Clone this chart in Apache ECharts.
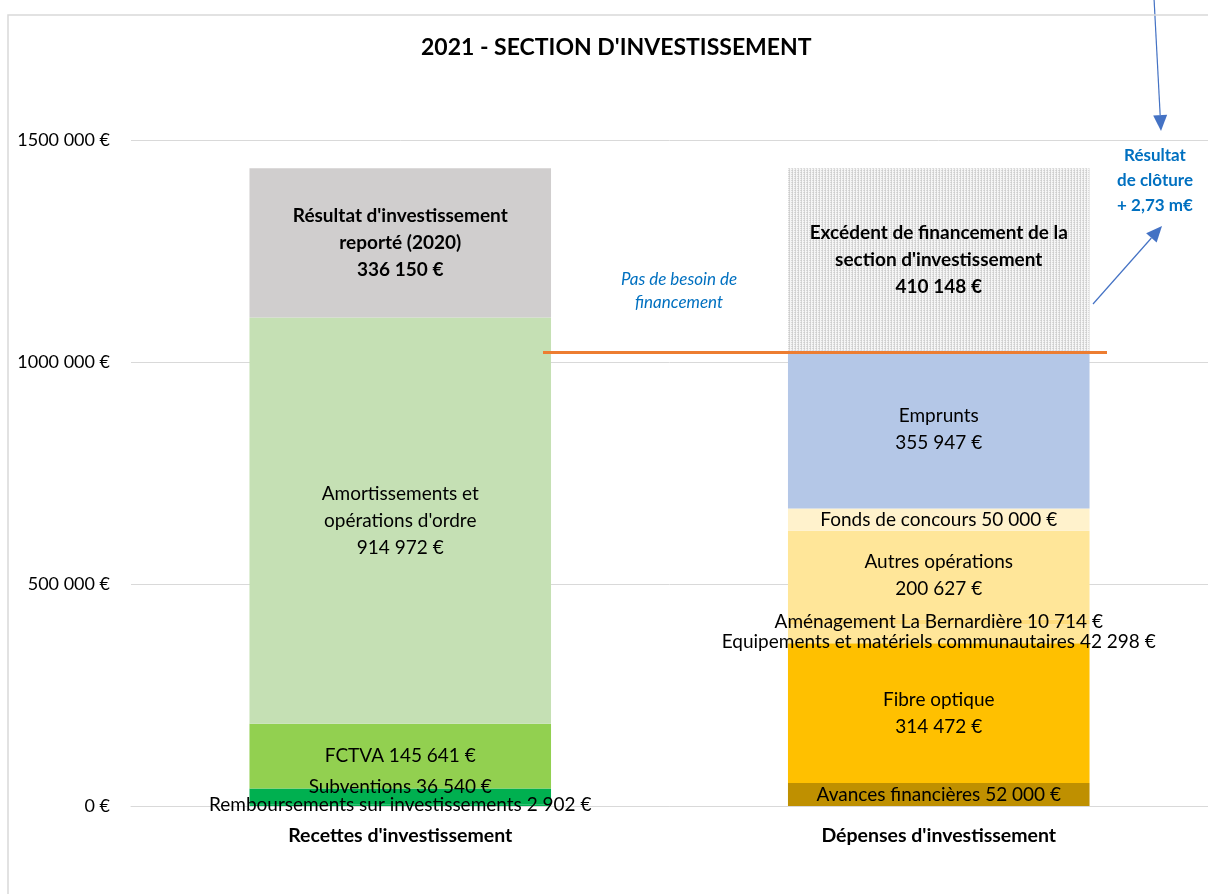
<!DOCTYPE html>
<html>
<head>
<meta charset="utf-8">
<title>2021 - Section d'investissement</title>
<script src="https://cdn.jsdelivr.net/npm/echarts@6/dist/echarts.min.js"></script>
<style>
  html, body { margin: 0; padding: 0; background: #fff; }
  #chart { width: 1208px; height: 894px; }
</style>
</head>
<body>
<div id="chart"></div>
<script>
const categories = ["Recettes d'investissement", "Dépenses d'investissement"];

// recettes (bas -> haut)
const recettesNames = [
  "Remboursements sur investissements",
  "Subventions",
  "FCTVA",
  "Amortissements et\nopérations d'ordre\n",
  "Résultat d'investissement\nreporté (2020)\n"
];
const recettesValues = [2902, 36540, 145641, 914972, 336150];
const recettesColors = ["#00b050", "#00b050", "#92d050", "#c5e0b4", "#d0cece"];

// dépenses (bas -> haut)
const depensesNames = [
  "Avances financières",
  "Fibre optique\n",
  "Equipements et matériels communautaires",
  "Aménagement La Bernardière",
  "Autres opérations\n",
  "Fonds de concours",
  "Emprunts\n",
  "Excédent de financement de la\nsection d'investissement\n"
];
const depensesValues = [52000, 314472, 42298, 10714, 200627, 50000, 355947, 410148];
const depensesColors = ["#bf9000", "#ffc000", "#ffe699", "#ffdc7a", "#ffe699", "#fff2cc", "#b4c7e7", "pattern"];

const yTicks = [0, 500000, 1000000, 1500000];

(function () {
  const chart = echarts.init(document.getElementById("chart"));
  const font = "Lato, 'Open Sans', sans-serif";

  function euro(v) {
    return String(v).replace(/\B(?=(\d{3})+(?!\d))/g, " ") + " €";
  }

  // motif pointillé gris clair pour l'excédent
  const pat = document.createElement("canvas");
  pat.width = 3;
  pat.height = 2;
  const ctx = pat.getContext("2d");
  ctx.fillStyle = "#f6f6f6";
  ctx.fillRect(0, 0, 3, 2);
  ctx.fillStyle = "#cdcdcd";
  ctx.fillRect(0, 0, 1, 1);
  ctx.fillStyle = "#dadada";
  ctx.fillRect(0, 1, 1, 1);
  ctx.fillRect(2, 0, 1, 1);

  const boldSeries = {
    "Résultat d'investissement\nreporté (2020)\n": true,
    "Excédent de financement de la\nsection d'investissement\n": true
  };
  const offsets = { "Subventions": [0, -10], "Equipements et matériels communautaires": [0, 8] };

  function makeSeries(name, value, color, idx) {
    const data = idx === 0 ? [value, "-"] : ["-", value];
    const sep = name.slice(-1) === "\n" ? "" : " ";
    return {
      name: name,
      type: "bar",
      stack: "total",
      barWidth: "56%",
      data: data,
      itemStyle: {
        color: color === "pattern" ? { image: pat, repeat: "repeat" } : color
      },
      emphasis: { disabled: true },
      label: {
        show: true,
        position: "inside",
        offset: offsets[name] || [0, 0],
        color: "#000",
        fontFamily: font,
        fontSize: 19,
        lineHeight: 27,
        fontWeight: boldSeries[name] ? "bold" : "normal",
        formatter: function (p) {
          return name + sep + euro(p.value);
        }
      }
    };
  }

  const series = [];
  recettesNames.forEach(function (n, i) {
    series.push(makeSeries(n, recettesValues[i], recettesColors[i], 0));
  });
  depensesNames.forEach(function (n, i) {
    series.push(makeSeries(n, depensesValues[i], depensesColors[i], 1));
  });

  const option = {
    animation: false,
    title: {
      text: "2021 - SECTION D'INVESTISSEMENT",
      left: 416,
      top: 31,
      textStyle: { fontFamily: font, fontSize: 23, fontWeight: "bold", color: "#000" }
    },
    grid: { left: 131, width: 1080, top: 140, bottom: 88 },
    xAxis: {
      type: "category",
      data: categories,
      axisTick: { show: false },
      axisLine: { lineStyle: { color: "#d9d9d9" } },
      axisLabel: { color: "#000", fontFamily: font, fontSize: 19.5, fontWeight: "bold", margin: 20 }
    },
    yAxis: {
      type: "value",
      min: yTicks[0],
      max: yTicks[yTicks.length - 1],
      interval: yTicks[1] - yTicks[0],
      axisLine: { show: false },
      axisTick: { show: false },
      splitLine: { lineStyle: { color: "#d9d9d9", width: 1 } },
      axisLabel: {
        color: "#000",
        fontFamily: font,
        fontSize: 18,
        margin: 21,
        formatter: function (v) {
          return v === 0 ? "0 €" : Math.floor(v / 1000) + " 000 €";
        }
      }
    },
    series: series
  };
  chart.setOption(option);

  // ligne orange au niveau des dépenses réelles (hors excédent)
  const depReelles = depensesValues.slice(0, depensesValues.length - 1).reduce(function (a, b) { return a + b; }, 0);
  const yLine = chart.convertToPixel({ gridIndex: 0 }, [1, depReelles])[1];

  function arrow(x1, y1, x2, y2) {
    const a = Math.atan2(y2 - y1, x2 - x1);
    const len = 16, w = 7;
    const bx = x2 - len * Math.cos(a), by = y2 - len * Math.sin(a);
    return [
      { type: "line", shape: { x1: x1, y1: y1, x2: bx, y2: by }, style: { stroke: "#4472c4", lineWidth: 1.2 } },
      {
        type: "polygon",
        shape: { points: [[x2, y2], [bx + w * Math.sin(a), by - w * Math.cos(a)], [bx - w * Math.sin(a), by + w * Math.cos(a)]] },
        style: { fill: "#4472c4" }
      }
    ];
  }

  chart.setOption({
    graphic: [
      { type: "rect", shape: { x: 8, y: 15, width: 1400, height: 1000 }, style: { fill: null, stroke: "#d9d9d9", lineWidth: 1.5 }, z: 1 },
      { type: "line", shape: { x1: 543, y1: yLine + 2, x2: 1107, y2: yLine + 2 }, style: { stroke: "#ed7d31", lineWidth: 3 }, z: 100 },
      {
        type: "text", x: 679, y: 268, z: 100,
        style: { text: "Pas de besoin de\nfinancement", align: "center", fill: "#0070c0", fontFamily: font, fontSize: 17, fontStyle: "italic", lineHeight: 23 }
      },
      {
        type: "text", x: 1155, y: 143, z: 100,
        style: { text: "Résultat\nde clôture\n+ 2,73 m€", align: "center", fill: "#0070c0", fontFamily: font, fontSize: 17, fontWeight: "bold", lineHeight: 25 }
      }
    ].concat(arrow(1093, 304, 1162, 226)).concat(arrow(1154, -2, 1161, 131))
  });

  window.addEventListener("resize", function () {
    chart.resize();
  });
})();
</script>
</body>
</html>
